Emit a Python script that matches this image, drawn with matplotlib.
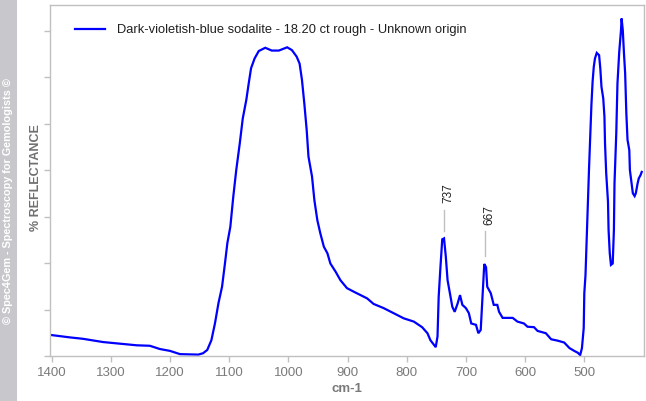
import matplotlib
matplotlib.use("Agg")
import matplotlib.pyplot as plt
from matplotlib.patches import Rectangle

# ---- data (wavenumber cm-1, reflectance in arbitrary %) ----
wavenumber = [1400, 1369, 1347, 1313, 1281, 1256, 1234, 1217, 1200, 1183, 1152, 1144, 1137,
              1130, 1124, 1118, 1112, 1107, 1103, 1098, 1093, 1088, 1082, 1077, 1071, 1067,
              1063, 1057, 1050, 1039, 1028, 1016, 1002, 994, 986, 981, 977, 973, 969, 966,
              960, 956, 951, 946, 940, 934, 929, 920, 912, 901, 889, 878, 867, 856, 839,
              822, 805, 788, 774, 765, 760, 754, 751, 748, 746, 743, 740, 737, 734, 731,
              727, 723, 719, 714, 710, 706, 700, 695, 691, 683, 679, 675, 672, 669, 666,
              664, 658, 653, 647, 644, 638, 621, 613, 602, 596, 585, 579, 565, 556, 545,
              534, 525, 517, 511, 507, 504, 501, 500, 498, 496, 494, 492, 490, 488, 486,
              484, 482, 479, 475, 473, 471, 468, 466, 465, 463, 460, 459, 457, 455, 452,
              450, 449, 446, 444, 441, 438, 437, 435, 433, 431, 429, 427, 424, 423, 420,
              418, 415, 413, 410, 408, 405, 403]
reflectance = [4.5, 4.0, 3.7, 3.0, 2.6, 2.3, 2.2, 1.5, 1.1, 0.4, 0.3, 0.6, 1.3,
               3.4, 7.0, 11.4, 14.9, 20.0, 24.3, 27.8, 34.3, 40.0, 45.8, 51.1, 55.1, 58.6,
               61.9, 64.0, 65.6, 66.3, 65.7, 65.7, 66.4, 65.8, 64.4, 62.9, 59.4, 54.3, 48.6, 42.9,
               38.6, 33.5, 29.2, 26.4, 23.5, 22.1, 19.9, 18.1, 16.3, 14.6, 13.8, 13.1, 12.4, 11.2, 10.3,
               9.2, 8.1, 7.4, 6.2, 4.9, 3.4, 2.4, 1.9, 4.2, 12.8, 19.2, 25.1, 25.3, 21.4, 16.3,
               13.5, 10.6, 9.5, 11.3, 13.1, 11.0, 10.3, 9.2, 7.0, 6.7, 4.9, 5.6, 12.8, 19.8, 19.1,
               14.9, 13.5, 11.0, 11.0, 9.5, 8.2, 8.2, 7.4, 7.0, 6.3, 6.2, 5.4, 4.9, 3.6, 3.3,
               2.9, 1.7, 1.1, 0.7, 0.2, 1.7, 6.0, 13.5, 17.4, 25.3, 32.8, 40.4, 47.5, 54.0, 59.0,
               62.2, 64.0, 65.2, 64.7, 61.9, 57.9, 55.4, 51.5, 45.7, 39.3, 33.2, 27.1, 22.1, 19.6, 19.9,
               27.1, 37.1, 47.9, 58.6, 65.4, 70.1, 72.6, 70.1, 65.1, 60.8, 52.2, 46.5, 44.3, 40.0, 37.1,
               35.0, 34.4, 35.0, 37.1, 38.2, 38.9, 39.6]

series_label = "Dark-violetish-blue sodalite - 18.20 ct rough - Unknown origin"
peak_positions = [737, 667]
peak_labels = ["737", "667"]
xticks = [1400, 1300, 1200, 1100, 1000, 900, 800, 700, 600, 500]

# ---- figure ----
W, H = 646, 401
fig = plt.figure(figsize=(W / 100, H / 100), dpi=100)
fig.patch.set_facecolor("white")

L, R, T, B = 49.5, 643.5, 5, 356
ax = fig.add_axes([L / W, 1 - B / H, (R - L) / W, (B - T) / H])

grey = "#c0c0c0"
ax.plot(wavenumber, reflectance, color="#0000ff", lw=1.6, label=series_label,
        solid_joinstyle="miter")

ax.set_xlim(1403.5, 400)
ax.set_ylim(0, 75.5)
ax.set_xticks(xticks)
ax.set_xticklabels([str(t) for t in xticks])
ax.set_yticks(range(0, 80, 10))
ax.set_yticklabels([])
for s in ax.spines.values():
    s.set_color(grey)
    s.set_linewidth(1.0)
ax.tick_params(axis="both", direction="out", length=4, width=1.0, color=grey,
               labelcolor="#7a7a7a", labelsize=9.5, pad=4)
for lbl in ax.get_xticklabels():
    lbl.set_family("Liberation Sans")

ax.set_xlabel("cm-1", fontsize=9.5, fontweight="bold", color="#7a7a7a",
              family="Liberation Sans", labelpad=3)

# peak annotations
line_ranges = [(26.9, 31.4), (21.5, 26.9)]
text_offsets = [-8, -7]
text_bottom = [32.9, 28.2]
for pos, lab, (y0, y1), dx, yb in zip(peak_positions, peak_labels, line_ranges, text_offsets, text_bottom):
    ax.plot([pos, pos], [y0, y1], color="#c0c0c0", lw=1.0)
    ax.text(pos + dx, yb, lab, rotation=90, ha="center", va="bottom", fontsize=8.5,
            color="#202020", family="Liberation Sans")

leg = ax.legend(loc="upper left", bbox_to_anchor=((75 - L) / (R - L), (B - 24) / (B - T)),
                frameon=False, borderaxespad=0, borderpad=0, handlelength=2.3,
                handletextpad=1.0, prop={"family": "Liberation Sans", "size": 9.27})
for t in leg.get_texts():
    t.set_color("#202020")

# left copyright band
fig.patches.append(Rectangle((0, 0), 17 / W, 1, transform=fig.transFigure,
                             facecolor="#c8c8cc", edgecolor="none", zorder=0))
fig.text(8.5 / W, 1 - 201 / H, "© Spec4Gem - Spectroscopy for Gemologists ©",
         rotation=90, ha="center", va="center", color="white", fontsize=7.8,
         fontweight="bold", family="Liberation Sans")
fig.text(36 / W, 1 - 178 / H, "% REFLECTANCE", rotation=90, ha="center", va="center",
         color="#707070", fontsize=9, fontweight="bold", family="Liberation Sans")

fig.savefig("out.png", dpi=100)
